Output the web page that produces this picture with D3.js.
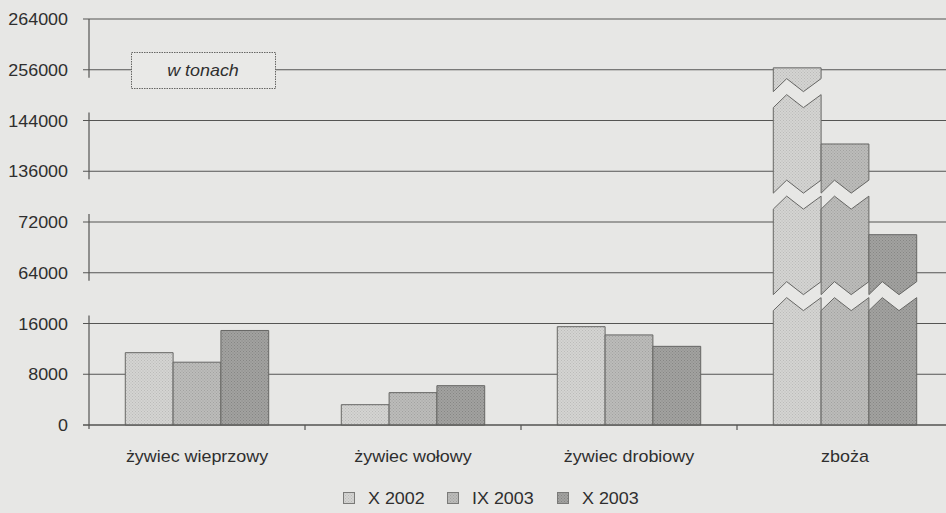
<!DOCTYPE html>
<html>
<head>
<meta charset="utf-8">
<script src="https://cdn.jsdelivr.net/npm/d3@7/dist/d3.min.js"></script>
<style>
  body { margin: 0; background: #e7e7e5; }
  svg text { font-family: "Liberation Sans", Arial, sans-serif; fill: #2f2f2f; }
</style>
</head>
<body>
<div id="chart"></div>
<script>
// data (tonnes)
var categories = ["żywiec wieprzowy", "żywiec wołowy", "żywiec drobiowy", "zboża"];
var seriesNames = ["X 2002", "IX 2003", "X 2003"];
var valsX2002 = [11400, 3200, 15500, 256300];
var valsIX2003 = [9900, 5100, 14200, 140300];
var valsX2003 = [14900, 6200, 12400, 70000];
var tickValues = [0, 8000, 16000, 64000, 72000, 136000, 144000, 256000, 264000];
var segments = [[0, 16000], [64000, 72000], [136000, 144000], [256000, 264000]];
var unitLabel = "w tonach";

var width = 946, height = 513,
    axisX = 89, baseY = 425, tickStep = 50.75,
    stretch = 1.12,
    barColors = ["#d4d4d2", "#bcbcba", "#a2a2a0"],
    dotColors = ["#bbbbb9", "#a2a2a0", "#868684"],
    lineColor = "#555553";

var svg = d3.select("#chart").append("svg")
    .attr("width", width)
    .attr("height", height);

svg.append("rect").attr("width", width).attr("height", height).attr("fill", "#e7e7e5");

// halftone-ish fills
var defs = svg.append("defs");
barColors.forEach(function(c, i) {
    var p = defs.append("pattern")
        .attr("id", "pat" + i)
        .attr("patternUnits", "userSpaceOnUse")
        .attr("width", 3).attr("height", 3);
    p.append("rect").attr("width", 3).attr("height", 3).attr("fill", c);
    p.append("rect").attr("width", 1).attr("height", 1).attr("fill", dotColors[i]);
    p.append("rect").attr("x", 1.5).attr("y", 1.5).attr("width", 1).attr("height", 1).attr("fill", dotColors[i]);
});

// broken value axis: every tick is one step apart
var y = d3.scaleLinear()
    .domain(tickValues)
    .range(tickValues.map(function(d, i) { return baseY - i * tickStep; }));

var x = d3.scaleBand()
    .domain(categories)
    .range([axisX, axisX + 4 * 216]);

var groupW = x.bandwidth() * 0.664;
var xs = d3.scaleBand()
    .domain(seriesNames)
    .range([0, groupW]);

// wide text helper (scan is stretched horizontally)
function wideText(g, tx, ty, str, anchor, size, italic) {
    return g.append("text")
        .attr("transform", "translate(" + tx + "," + ty + ") scale(" + stretch + ",1)")
        .attr("text-anchor", anchor)
        .style("font-size", size + "px")
        .style("font-style", italic ? "italic" : "normal")
        .text(str);
}

// gridlines
var grid = svg.append("g");
grid.selectAll("line")
    .data(tickValues)
    .enter().append("line")
    .attr("x1", axisX - 6)
    .attr("x2", width)
    .attr("y1", function(d) { return y(d); })
    .attr("y2", function(d) { return y(d); })
    .attr("stroke", lineColor)
    .attr("stroke-width", 1.2);

// y axis pieces, one per segment
svg.append("g").selectAll("line")
    .data(segments)
    .enter().append("line")
    .attr("x1", axisX).attr("x2", axisX)
    .attr("y1", function(d) { return d[1] === 264000 ? y(d[1]) : y(d[1]) - 8; })
    .attr("y2", function(d) { return d[0] === 0 ? y(d[0]) + 4 : y(d[0]) + 8; })
    .attr("stroke", lineColor)
    .attr("stroke-width", 1.2);

// y tick labels
var yl = svg.append("g");
tickValues.forEach(function(v) {
    wideText(yl, 68, y(v) + 6, String(v), "end", 16, false);
});

// x axis ticks between categories
svg.append("g").selectAll("line")
    .data(categories.slice(1))
    .enter().append("line")
    .attr("x1", function(d) { return x(d); })
    .attr("x2", function(d) { return x(d); })
    .attr("y1", baseY).attr("y2", baseY + 5)
    .attr("stroke", lineColor)
    .attr("stroke-width", 1.2);

// bars with zigzag breaks
var series = [valsX2002, valsIX2003, valsX2003];
var zig = 13, gap = 16;
function breakCenter(i) {
    // middle of gap between segment i and segment i+1
    return (y(segments[i][1]) + y(segments[i + 1][0])) / 2 - 2;
}
function zigEdge(x0, w, yb) {
    return [[x0, yb], [x0 + 0.28 * w, yb - zig], [x0 + 0.63 * w, yb], [x0 + w, yb - zig]];
}

var bars = svg.append("g");
series.forEach(function(vals, si) {
    vals.forEach(function(v, ci) {
        var x0 = x(categories[ci]) + (x.bandwidth() - groupW) / 2 + xs(seriesNames[si]),
            w = xs.bandwidth();
        var breaks = [];
        for (var k = 0; k < segments.length - 1; k++) {
            if (v > segments[k + 1][0]) breaks.push(breakCenter(k));
        }
        var bottom = [[x0, y(0)], [x0 + w, y(0)]];
        var pieces = [];
        breaks.forEach(function(yb) {
            var top = zigEdge(x0, w, yb + gap / 2 + zig / 2);
            pieces.push([bottom, top]);
            bottom = zigEdge(x0, w, yb - gap / 2 + zig / 2);
        });
        pieces.push([bottom, [[x0, y(v)], [x0 + w, y(v)]]]);
        pieces.forEach(function(pc) {
            var pts = pc[0].concat(pc[1].slice().reverse());
            bars.append("path")
                .attr("d", d3.line()(pts) + "Z")
                .attr("fill", "url(#pat" + si + ")")
                .attr("stroke", "#666664")
                .attr("stroke-width", 1)
                .attr("stroke-linejoin", "miter");
        });
    });
});

// x axis line
svg.append("line")
    .attr("x1", axisX - 6).attr("x2", width)
    .attr("y1", baseY).attr("y2", baseY)
    .attr("stroke", lineColor).attr("stroke-width", 1.2);

// category labels
var xl = svg.append("g");
categories.forEach(function(c) {
    wideText(xl, x(c) + x.bandwidth() / 2, 462, c, "middle", 16, false);
});

// unit box
var box = svg.append("g");
box.append("rect")
    .attr("x", 131.5).attr("y", 52.5)
    .attr("width", 144).attr("height", 36)
    .attr("fill", "#e9e9e7")
    .attr("stroke", "#666664")
    .attr("stroke-dasharray", "1.5,1")
    .attr("stroke-width", 1);
wideText(box, 203, 76, unitLabel, "middle", 16, true);

// legend
var legend = svg.append("g");
var legX = [343, 447, 557];
seriesNames.forEach(function(s, i) {
    legend.append("rect")
        .attr("x", legX[i] + 0.5).attr("y", 492.5)
        .attr("width", 11).attr("height", 11)
        .attr("fill", "url(#pat" + i + ")")
        .attr("stroke", "#7a7a78");
    wideText(legend, legX[i] + 25, 504, s, "start", 16, false);
});
</script>
</body>
</html>
